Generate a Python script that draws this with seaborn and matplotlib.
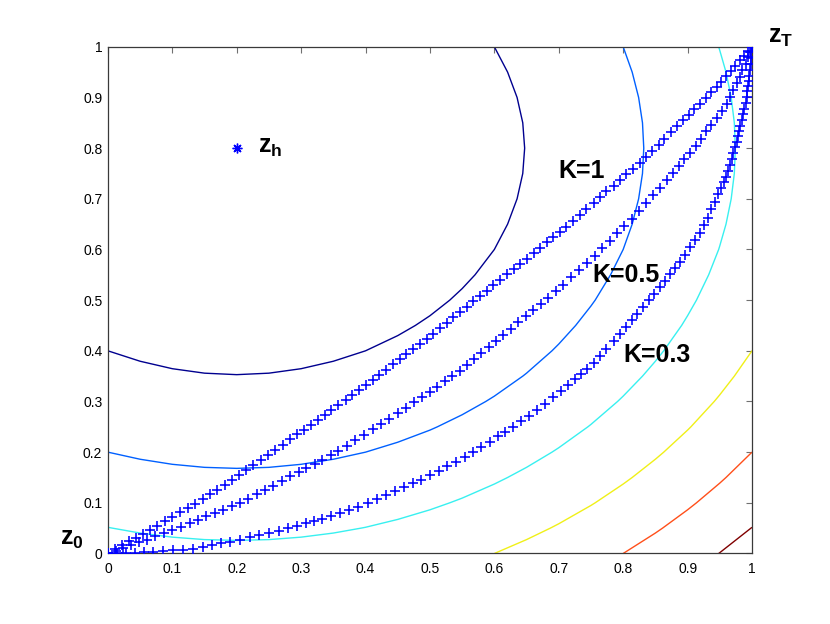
import numpy as np
import pandas as pd
import seaborn as sns
import matplotlib.pyplot as plt

# hazard point z_h and the contour levels of the squared distance to it
z_h = [0.2, 0.8]
levels = [0.2, 0.4, 0.6, 0.8, 1.0, 1.2]

tick_vals = [0, 0.1, 0.2, 0.3, 0.4, 0.5, 0.6, 0.7, 0.8, 0.9, 1]
tick_labels = ['0', '0.1', '0.2', '0.3', '0.4', '0.5', '0.6', '0.7', '0.8', '0.9', '1']

# trajectory K=1
k1_x = [0.000, 0.011, 0.022, 0.033, 0.043, 0.054, 0.065, 0.076,
        0.088, 0.100, 0.112, 0.124, 0.136, 0.148,
        0.159, 0.170, 0.182, 0.193, 0.204, 0.215,
        0.226, 0.238, 0.249, 0.260, 0.272, 0.283,
        0.294, 0.304, 0.315, 0.326, 0.337, 0.347, 0.358,
        0.369, 0.379, 0.390, 0.400,
        0.411, 0.421, 0.432, 0.442, 0.453, 0.463, 0.474, 0.484, 0.495, 0.505,
        0.515, 0.526, 0.536, 0.547, 0.557, 0.567, 0.578, 0.588, 0.598, 0.609,
        0.619, 0.630, 0.640, 0.650, 0.661, 0.671, 0.681, 0.691, 0.702, 0.712,
        0.722, 0.733, 0.743, 0.754, 0.764,
        0.774, 0.785, 0.795, 0.805, 0.816, 0.826,
        0.836, 0.845, 0.855, 0.864, 0.874, 0.883, 0.893,
        0.902, 0.910, 0.919, 0.928, 0.936, 0.945,
        0.952, 0.959, 0.967, 0.974, 0.981,
        0.987, 0.994, 1.000]
k1_y = [0.000, 0.008, 0.016, 0.024, 0.031, 0.039, 0.047, 0.055,
        0.064, 0.072, 0.081, 0.090, 0.098, 0.107,
        0.117, 0.126, 0.136, 0.146, 0.155, 0.165,
        0.175, 0.185, 0.195, 0.205, 0.215, 0.225,
        0.235, 0.244, 0.254, 0.264, 0.274, 0.283, 0.293,
        0.303, 0.313, 0.322, 0.332,
        0.342, 0.352, 0.363, 0.373, 0.383, 0.393, 0.403, 0.414, 0.424, 0.434,
        0.445, 0.455, 0.466, 0.476, 0.487, 0.498, 0.508, 0.519, 0.529, 0.540,
        0.551, 0.561, 0.572, 0.582, 0.593, 0.603, 0.614, 0.624, 0.635, 0.645,
        0.657, 0.669, 0.680, 0.692, 0.704,
        0.715, 0.726, 0.737, 0.748, 0.759, 0.770,
        0.782, 0.794, 0.806, 0.819, 0.831, 0.843, 0.855,
        0.866, 0.877, 0.888, 0.899, 0.910, 0.921,
        0.931, 0.942, 0.952, 0.963, 0.973,
        0.982, 0.991, 1.000]

# trajectory K=0.5
k05_x = [0.000, 0.012, 0.024, 0.036, 0.048, 0.060,
         0.073, 0.087, 0.100, 0.114, 0.127,
         0.140, 0.153, 0.166, 0.179, 0.192, 0.205,
         0.218, 0.231, 0.244, 0.257, 0.270, 0.283,
         0.296, 0.308, 0.321, 0.333, 0.346, 0.358,
         0.371, 0.384, 0.397, 0.411, 0.424, 0.437, 0.450,
         0.463, 0.475, 0.488, 0.500,
         0.511, 0.523, 0.534, 0.546, 0.557,
         0.568, 0.580, 0.591, 0.603, 0.614, 0.626, 0.637, 0.649, 0.660,
         0.672, 0.684, 0.695, 0.707,
         0.719, 0.732, 0.744, 0.756,
         0.767, 0.779, 0.790, 0.802, 0.813,
         0.824, 0.835, 0.846, 0.857, 0.868,
         0.877, 0.886, 0.895, 0.904, 0.913,
         0.921, 0.929, 0.937, 0.945, 0.953, 0.961,
         0.966, 0.971, 0.976, 0.981,
         0.985, 0.990, 0.994,
         0.997, 1.000]
k05_y = [0.000, 0.005, 0.011, 0.016, 0.022, 0.027,
         0.034, 0.040, 0.047, 0.053, 0.060,
         0.067, 0.073, 0.080, 0.086, 0.093, 0.099,
         0.108, 0.117, 0.125, 0.134, 0.143, 0.152,
         0.160, 0.169, 0.177, 0.185, 0.194, 0.202,
         0.213, 0.223, 0.234, 0.245, 0.256, 0.266, 0.277,
         0.287, 0.298, 0.308, 0.318,
         0.329, 0.340, 0.350, 0.361, 0.372,
         0.384, 0.396, 0.408, 0.420, 0.432, 0.444, 0.456, 0.468, 0.480,
         0.493, 0.505, 0.518, 0.530,
         0.545, 0.559, 0.574, 0.588,
         0.603, 0.617, 0.632, 0.646, 0.661,
         0.676, 0.691, 0.707, 0.722, 0.737,
         0.751, 0.764, 0.778, 0.791, 0.805,
         0.819, 0.833, 0.846, 0.860, 0.874, 0.888,
         0.901, 0.915, 0.928, 0.941,
         0.954, 0.967, 0.980,
         0.990, 1.000]

# trajectory K=0.3
k03_x = [0.000, 0.014, 0.028, 0.042, 0.056, 0.070,
         0.086, 0.101, 0.117, 0.132,
         0.147, 0.161, 0.176, 0.190, 0.205,
         0.220, 0.235, 0.250, 0.265, 0.280,
         0.293, 0.307, 0.320, 0.333, 0.347, 0.360,
         0.375, 0.389, 0.404,
         0.418, 0.432, 0.445, 0.459,
         0.473, 0.486, 0.500,
         0.514, 0.527, 0.541, 0.554,
         0.567, 0.580, 0.593,
         0.605, 0.617, 0.629,
         0.641, 0.654, 0.666,
         0.678, 0.691, 0.703, 0.715,
         0.725, 0.735, 0.744, 0.754,
         0.764, 0.774, 0.785, 0.795, 0.805,
         0.814, 0.822, 0.831, 0.840, 0.848, 0.857,
         0.865, 0.873, 0.880, 0.888,
         0.896, 0.904, 0.911, 0.919,
         0.925, 0.931, 0.936, 0.942, 0.948,
         0.952, 0.956, 0.959, 0.963,
         0.966, 0.969, 0.971, 0.974,
         0.976, 0.978, 0.980, 0.982, 0.984,
         0.986, 0.988, 0.990, 0.992,
         0.993, 0.994, 0.995, 0.996, 0.997,
         0.998, 0.998, 0.999, 1.000]
k03_y = [0.000, 0.000, 0.001, 0.001, 0.002, 0.002,
         0.004, 0.006, 0.007, 0.009,
         0.013, 0.016, 0.020, 0.023, 0.027,
         0.032, 0.036, 0.041, 0.045, 0.050,
         0.055, 0.060, 0.065, 0.069, 0.074, 0.079,
         0.086, 0.092, 0.099,
         0.107, 0.115, 0.123, 0.131,
         0.139, 0.146, 0.154,
         0.163, 0.172, 0.181, 0.190,
         0.200, 0.211, 0.221,
         0.231, 0.240, 0.250,
         0.261, 0.272, 0.283,
         0.296, 0.308, 0.321, 0.333,
         0.344, 0.354, 0.365, 0.376,
         0.390, 0.404, 0.419, 0.433, 0.447,
         0.460, 0.473, 0.487, 0.500, 0.513, 0.526,
         0.538, 0.551, 0.563, 0.575,
         0.589, 0.604, 0.618, 0.632,
         0.648, 0.663, 0.679, 0.694, 0.710,
         0.721, 0.733, 0.744, 0.755,
         0.767, 0.779, 0.790, 0.802,
         0.813, 0.823, 0.834, 0.844, 0.855,
         0.867, 0.878, 0.890, 0.901,
         0.912, 0.922, 0.933, 0.943, 0.954,
         0.966, 0.977, 0.989, 1.000]

traj = pd.concat([
    pd.DataFrame({'x': k1_x, 'y': k1_y, 'K': '1'}),
    pd.DataFrame({'x': k05_x, 'y': k05_y, 'K': '0.5'}),
    pd.DataFrame({'x': k03_x, 'y': k03_y, 'K': '0.3'}),
], ignore_index=True)

# jet-like colours of the contour levels as they appear in the picture
level_colors = ['#00008f', '#0060ff', '#38f0f0', '#f0f018', '#ff4f1a', '#800000']

sns.set_style('white')
plt.rcParams['font.family'] = ['Liberation Sans', 'DejaVu Sans']
plt.rcParams['mathtext.fontset'] = 'custom'
plt.rcParams['mathtext.rm'] = 'Liberation Sans'
plt.rcParams['mathtext.bf'] = 'Liberation Sans:bold'
plt.rcParams['text.color'] = 'black'
plt.rcParams['xtick.labelcolor'] = 'black'
plt.rcParams['ytick.labelcolor'] = 'black'

fig = plt.figure(figsize=(8.3, 6.24), dpi=100)
ax = fig.add_axes([0.13, 0.113, 0.776, 0.812])

# contour lines of the distance to z_h
g = np.linspace(0, 1, 21)
X, Y = np.meshgrid(g, g)
F = (X - z_h[0]) ** 2 + (Y - z_h[1]) ** 2
ax.contour(X, Y, F, levels=levels, colors=level_colors, linewidths=1.0, zorder=2)

sns.scatterplot(data=traj, x='x', y='y', marker='+', color='#0000ff',
                s=48, linewidth=1.15, legend=False, ax=ax, zorder=3)

ax.plot(z_h[0], z_h[1], marker=(8, 2, 0), color='#0000ff', ms=7, mew=1, ls='none')

lab = dict(fontsize=18, fontweight='bold', ha='left', va='baseline', color='black')
ax.text(0.699, 0.741, 'K=1', **lab)
ax.text(0.752, 0.536, 'K=0.5', **lab)
ax.text(0.800, 0.378, 'K=0.3', **lab)
ax.text(0.233, 0.790, r'$\mathbf{z}_\mathbf{h}$', **lab)
ax.text(-0.075, 0.017, r'$\mathbf{z}_\mathbf{0}$', clip_on=False, **lab)
ax.text(1.025, 1.007, r'$\mathbf{z}_\mathbf{T}$', clip_on=False, **lab)

ax.set_xlim(0, 1)
ax.set_ylim(0, 1)
ax.set_xticks(tick_vals)
ax.set_xticklabels(tick_labels)
ax.set_yticks(tick_vals)
ax.set_yticklabels(tick_labels)
ax.set_xlabel('')
ax.set_ylabel('')
ax.tick_params(direction='in', top=True, right=True, length=4.5, width=0.8,
               labelsize=10, color='#707070', labelcolor='black')
ax.tick_params(axis='x', pad=6)
ax.tick_params(axis='y', pad=4)
for s in ax.spines.values():
    s.set_color('#3a3a3a')
    s.set_linewidth(0.9)

fig.savefig('out.png', dpi=100)
